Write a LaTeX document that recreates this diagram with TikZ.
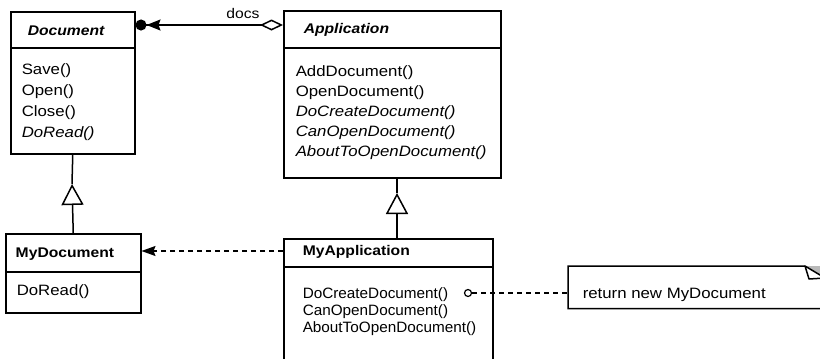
\documentclass[tikz,border=0pt]{standalone}
\usepackage{fontspec}
\setmainfont{Liberation Sans}[FakeStretch=1.12]
\newfontfamily\plainsans{Liberation Sans}[FakeStretch=1.02]
\usetikzlibrary{arrows.meta}
\begin{document}
\begin{tikzpicture}[x=1pt,y=-1pt,line width=1.5pt,line cap=butt,
  box/.style={draw,rectangle,inner sep=0pt,anchor=north west},
  meth/.style={anchor=base west,inner sep=0pt,font=\fontsize{15}{18}\selectfont},
  ameth/.style={meth,font=\fontsize{15}{18}\selectfont\itshape},
  smeth/.style={anchor=base west,inner sep=0pt,font=\plainsans\fontsize{15}{18}\selectfont},
  hdabs/.style={anchor=base west,inner sep=0pt,font=\fontsize{14}{17}\selectfont\bfseries\itshape},
  hdcon/.style={anchor=base west,inner sep=0pt,font=\fontsize{14}{17}\selectfont\bfseries},
  depline/.style={dash pattern=on 5pt off 4pt},
  gen/.style={-{Triangle[open,length=21pt,width=22pt]}}]
\useasboundingbox (0,0) rectangle (820,359);

% Document
\node[box,minimum width=124pt,minimum height=142pt] (doc) at (10,11) {};
\draw ([yshift=-37pt]doc.north west) -- ([yshift=-37pt]doc.north east);
\node[hdabs] (docH) at (27,35) {Document};
\node[meth] (docM1) at (21,74) {Save()};
\node[meth] (docM2) at (21,95) {Open()};
\node[meth] (docM3) at (21,116) {Close()};
\node[ameth] (docM4) at (21,137) {DoRead()};

% Application
\node[box,minimum width=217pt,minimum height=167pt] (app) at (283,10) {};
\draw ([yshift=-38pt]app.north west) -- ([yshift=-38pt]app.north east);
\node[hdabs] (appH) at (303,33) {Application};
\node[meth] (appM1) at (295,76) {AddDocument()};
\node[meth] (appM2) at (295,96) {OpenDocument()};
\node[ameth] (appM3) at (295,116) {DoCreateDocument()};
\node[ameth] (appM4) at (295,136) {CanOpenDocument()};
\node[ameth] (appM5) at (295,156) {AboutToOpenDocument()};

% MyDocument
\node[box,minimum width=135pt,minimum height=79pt] (mydoc) at (5,233) {};
\draw ([yshift=-39pt]mydoc.north west) -- ([yshift=-39pt]mydoc.north east);
\node[hdcon] (mydocH) at (15,257) {MyDocument};
\node[meth] (mydocM1) at (16,295) {DoRead()};

% MyApplication
\node[box,minimum width=209pt,minimum height=121pt] (myapp) at (283,238) {};
\draw ([yshift=-29pt]myapp.north west) -- ([yshift=-29pt]myapp.north east);
\node[hdcon] (myappH) at (302,255) {MyApplication};
\node[smeth] (myappM1) at (302,298) {DoCreateDocument()};
\node[smeth] (myappM2) at (302,315) {CanOpenDocument()};
\node[smeth] (myappM3) at (302,332) {AboutToOpenDocument()};

% docs association
\draw[{Circle[length=11pt]Stealth[length=14pt,width=11pt,inset=2pt]}-{Diamond[open,length=23pt,width=11pt]}]
  ([yshift=-14pt]doc.north east) -- ([yshift=-15pt]app.north west);
\node[anchor=base,inner sep=0pt,font=\fontsize{14}{17}\selectfont] (docsL) at (243,18) {docs};

% generalizations
\coordinate (t1) at (72,184);
\draw[gen] (mydoc.north) -- (t1);
\draw (t1) -- (doc.south);
\coordinate (t2) at (397,193);
\draw[gen] (myapp.north -| t2) -- (t2);
\draw (t2) -- (app.south -| t2);

% dependency
\draw[depline,-{Stealth[length=14pt,width=10pt,inset=2pt]}]
  ([yshift=-13pt]myapp.north west) -- ([yshift=-18pt]mydoc.north east);

% note
\node[anchor=north west,inner sep=0pt,minimum width=257pt,minimum height=41pt] (note) at (568,266) {};
\fill[gray!55] (805,266) -- (825,266) -- (825,278) -- cycle;
\draw (805,266) -- (note.north west) -- (note.south west) -- (note.south east) -- (825,278);
\draw[line join=round] (805,266) -- (809,279) -- (825,278) -- cycle;
\node[meth] (noteT) at (582,298) {return new MyDocument};
\node[draw,circle,minimum size=7pt,inner sep=0pt,line width=1.2pt] (dot) at (468,293) {};
\draw[depline] (dot) -- (note.west |- dot);
\end{tikzpicture}
\end{document}
